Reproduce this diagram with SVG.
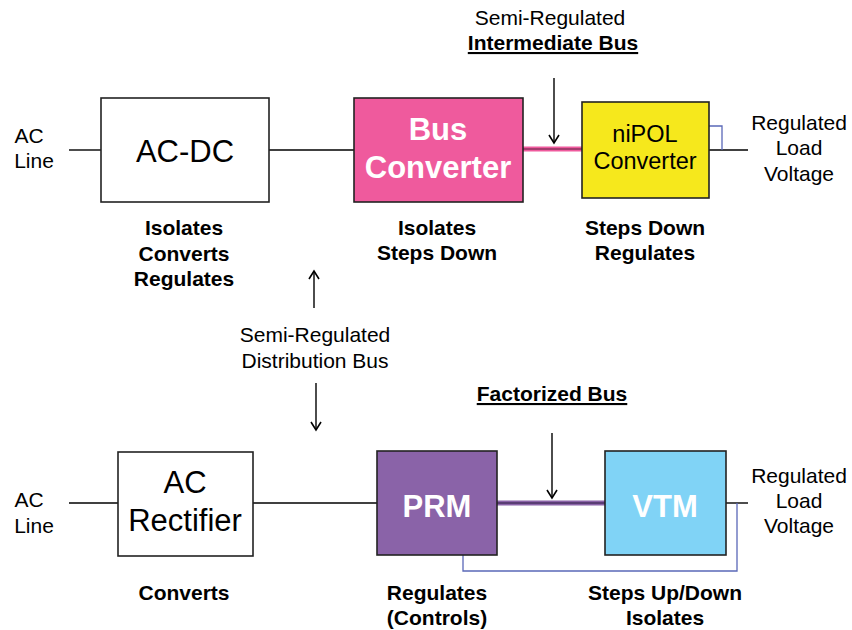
<svg xmlns="http://www.w3.org/2000/svg" width="852" height="630" viewBox="0 0 852 630">
<style>
text{font-family:"Liberation Sans",Arial,sans-serif;fill:#000;text-anchor:middle}
.n{font-size:21px}
.b{font-size:21px;font-weight:bold}
.big{font-size:31px}
.bigw{font-size:31px;font-weight:bold;fill:#fff}
.u{text-decoration:underline}
.box{stroke:#222;stroke-width:1.6}
.w{stroke:#000;stroke-width:1.4;fill:none}
.fb{stroke:#5a68b8;stroke-width:1.3;fill:none}
</style>
<defs>
<marker id="ah" viewBox="0 0 12 12" refX="10" refY="6" markerWidth="12" markerHeight="12" markerUnits="userSpaceOnUse" orient="auto">
<polyline points="2,1 10,6 2,11" fill="none" stroke="#000" stroke-width="1.6"/>
</marker>
</defs>

<g id="connectors">
<line class="w" x1="69" y1="150" x2="101" y2="150"/>
<line class="w" x1="269" y1="150" x2="354" y2="150"/>
<line x1="523" y1="149" x2="582" y2="149" stroke="#ef5a9d" stroke-width="5"/>
<line x1="523" y1="149" x2="582" y2="149" stroke="#5a2040" stroke-width="1"/>
<line class="w" x1="709" y1="150" x2="748" y2="150"/>
<polyline class="fb" points="709,126 722,126 722,150"/>
<line class="w" x1="554" y1="78" x2="554" y2="143" marker-end="url(#ah)"/>
<line class="w" x1="314" y1="308" x2="314" y2="271" marker-end="url(#ah)"/>
<line class="w" x1="316" y1="383" x2="316" y2="430" marker-end="url(#ah)"/>
<line class="w" x1="69" y1="503" x2="118" y2="503"/>
<line class="w" x1="253" y1="503" x2="377" y2="503"/>
<line x1="497" y1="503" x2="605" y2="503" stroke="#8a63a8" stroke-width="5"/>
<line x1="497" y1="503" x2="605" y2="503" stroke="#2a1a40" stroke-width="1"/>
<line class="w" x1="726" y1="503" x2="748" y2="503"/>
<polyline class="fb" points="737,503 737,571 463,571 463,555"/>
<line class="w" x1="552" y1="433" x2="552" y2="498" marker-end="url(#ah)"/>
</g>

<g id="acdc">
<rect class="box" x="101" y="98" width="168" height="104" fill="#fff"/>
<text class="big" x="185" y="162">AC-DC</text>
</g>
<g id="busconv">
<rect class="box" x="354" y="98" width="169" height="104" fill="#ef5a9d"/>
<text class="bigw" x="438" y="140">Bus</text>
<text class="bigw" x="438" y="178">Converter</text>
</g>
<g id="nipol">
<rect class="box" x="582" y="102" width="127" height="96" fill="#f6e81c"/>
<text x="645" y="142" style="font-size:23.5px">niPOL</text>
<text x="645" y="169" style="font-size:23.5px">Converter</text>
</g>
<g id="acrect">
<rect class="box" x="118" y="452" width="135" height="104" fill="#fff"/>
<text class="big" x="185" y="493">AC</text>
<text class="big" x="185" y="531">Rectifier</text>
</g>
<g id="prm">
<rect class="box" x="377" y="451" width="120" height="104" fill="#8a63a8"/>
<text class="bigw" x="437" y="517">PRM</text>
</g>
<g id="vtm">
<rect class="box" x="605" y="451" width="121" height="104" fill="#80d3f6"/>
<text class="bigw" x="665" y="517">VTM</text>
</g>

<g id="labels">
<text class="n" x="29" y="143">AC</text>
<text class="n" x="34" y="168">Line</text>
<text class="n" x="29" y="507">AC</text>
<text class="n" x="34" y="533">Line</text>
<text class="n" x="550" y="25">Semi-Regulated</text>
<text class="b u" x="553" y="50">Intermediate Bus</text>
<text class="n" x="799" y="130">Regulated</text>
<text class="n" x="799" y="155">Load</text>
<text class="n" x="799" y="181">Voltage</text>
<text class="b" x="184" y="235">Isolates</text>
<text class="b" x="184" y="261">Converts</text>
<text class="b" x="184" y="286">Regulates</text>
<text class="b" x="437" y="235">Isolates</text>
<text class="b" x="437" y="260">Steps Down</text>
<text class="b" x="645" y="235">Steps Down</text>
<text class="b" x="645" y="260">Regulates</text>
<text class="n" x="315" y="342">Semi-Regulated</text>
<text class="n" x="315" y="368">Distribution Bus</text>
<text class="b u" x="552" y="401">Factorized Bus</text>
<text class="n" x="799" y="483">Regulated</text>
<text class="n" x="799" y="508">Load</text>
<text class="n" x="799" y="533">Voltage</text>
<text class="b" x="184" y="600">Converts</text>
<text class="b" x="437" y="600">Regulates</text>
<text class="b" x="437" y="625">(Controls)</text>
<text class="b" x="665" y="600">Steps Up/Down</text>
<text class="b" x="665" y="625">Isolates</text>
</g>
</svg>
